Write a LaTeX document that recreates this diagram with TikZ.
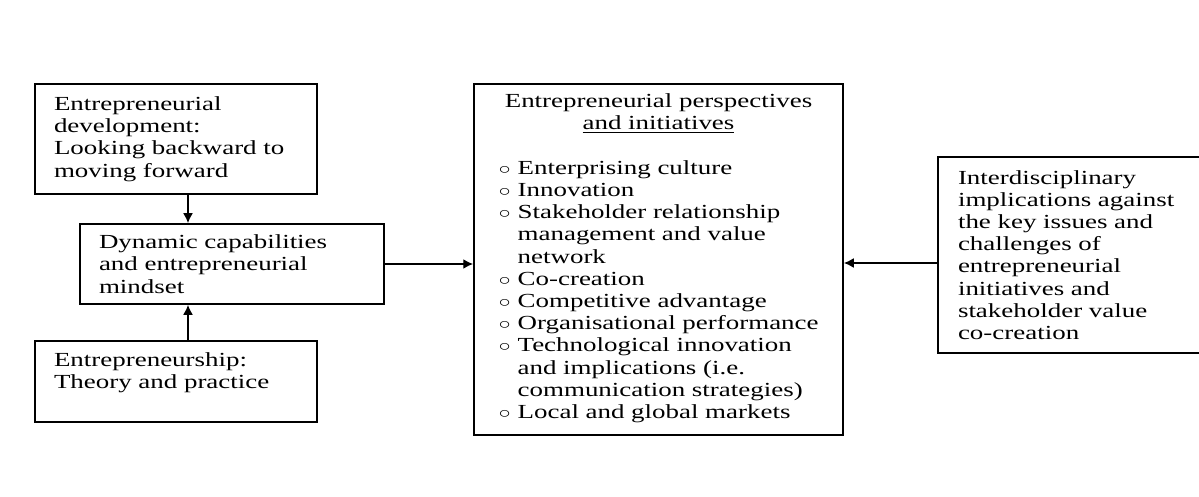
\documentclass[tikz,border=0pt]{standalone}
\usepackage{fontspec}
\setmainfont[FakeStretch=1.35]{Liberation Serif}
\usepackage{tikz}
\usetikzlibrary{arrows, arrows.meta}
\tikzstyle{block} = [rectangle, draw=black, line width=1.3pt, inner xsep=0.475cm, align=left, font=\fontsize{14.2pt}{15.8pt}\selectfont]
\tikzstyle{arrow} = [line width=1pt,-{Latex[length=7pt,width=7pt]}]
\newcommand{\bul}{{\fontsize{11pt}{11pt}\selectfont ○}}

\begin{document}
\begin{tikzpicture}[node distance=2cm]
        \useasboundingbox (0,0) rectangle (29.975,-12.425);

        \node (devel) [block, text width=6.1cm, minimum height=2.75cm] at (4.4,-3.475) {Entrepreneurial\\ development:\\ Looking backward to\\ moving forward};
        \node (dynamic) [block, text width=6.65cm, minimum height=2cm, below of=devel, xshift=1.4cm, yshift=-1.125cm] {Dynamic capabilities\\ and entrepreneurial\\ mindset};
        \node (theory) [block, text width=6.1cm, minimum height=2.025cm, below of=dynamic, xshift=-1.4cm, yshift=-0.9375cm] {Entrepreneurship:\\ Theory and practice\\ ~};
        \node (perspectives) [block, align=center, text width=8.275cm, minimum height=8.775cm, right of=dynamic, xshift=8.6625cm, yshift=0.1125cm] {Entrepreneurial perspectives\\ \underline{and initiatives}\\[15.8pt]
          \begin{tabular}[t]{@{}l@{}}
            \bul\ Enterprising culture\\
            \bul\ Innovation\\
            \bul\ Stakeholder relationship\\
            \hphantom{\bul}\ management and value\\
            \hphantom{\bul}\ network\\
            \bul\ Co-creation\\
            \bul\ Competitive advantage\\
            \bul\ Organisational performance\\
            \bul\ Technological innovation\\
            \hphantom{\bul}\ and implications (i.e.\\
            \hphantom{\bul}\ communication strategies)\\
            \bul\ Local and global markets
          \end{tabular}};
        \node (implications) [block, inner xsep=0.5cm, text width=5.8cm, minimum height=4.9cm, right of=perspectives, xshift=8.3875cm, yshift=0.1125cm] {Interdisciplinary\\ implications against\\ the key issues and\\ challenges of\\ entrepreneurial\\ initiatives and\\ stakeholder value\\ co-creation};

        \draw [arrow] ([xshift=0.3cm]devel.south) -- ([xshift=0.3cm]devel.south |- dynamic.north);
        \draw [arrow] ([xshift=0.3cm]theory.north) -- ([xshift=0.3cm]theory.north |- dynamic.south);
        \draw [arrow] (dynamic.east) -- (dynamic.east -| perspectives.west);
        \draw [arrow] ([yshift=-0.2cm]implications.west) -- ([yshift=-0.2cm]implications.west -| perspectives.east);

\end{tikzpicture}
\end{document}
